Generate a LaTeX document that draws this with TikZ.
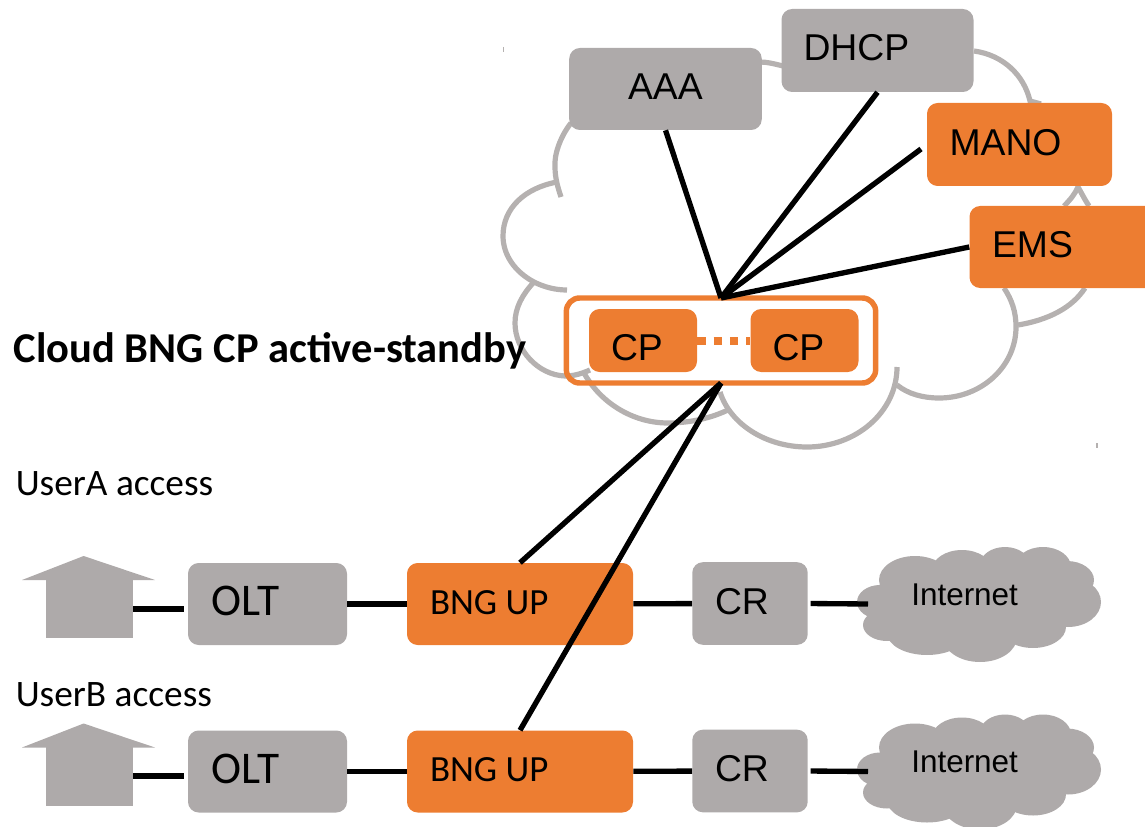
\documentclass[tikz,border=0pt]{standalone}
\usepackage{fontspec}
\setmainfont{Liberation Sans}
\newfontfamily\carlito{Carlito}
\definecolor{boxgray}{HTML}{AEAAAA}
\definecolor{boxorange}{HTML}{ED7D31}
\definecolor{cloudgray}{HTML}{B5B1B0}
% left edge and baseline of the text, in px from the box centre
\newcommand{\boxlabel}[3]{\raisebox{\dimexpr -#2pt*3/4\relax}[0pt][0pt]{\rlap{\hspace{\dimexpr #1pt*3/4\relax}#3}}}
\tikzset{
  graybox/.style={rectangle, rounded corners=8pt, fill=boxgray, inner sep=0pt, font=\fontsize{28}{31}\selectfont},
  orangebox/.style={rectangle, rounded corners=8pt, fill=boxorange, inner sep=0pt, font=\fontsize{28}{31}\selectfont},
  oltbox/.style={graybox, minimum width=119.25pt, minimum height=61.5pt, font=\carlito\fontsize{34}{37}\selectfont},
  bngbox/.style={orangebox, minimum width=169.5pt, minimum height=61.5pt, font=\carlito\fontsize{27.7}{30}\selectfont},
  crbox/.style={graybox, minimum width=86.6pt, minimum height=62pt},
  cpbox/.style={orangebox, minimum width=81pt, minimum height=47.25pt},
  housebody/.style={rectangle, fill=boxgray, inner sep=0pt, minimum width=65pt, minimum height=44.25pt},
  link/.style={line width=4pt},
  accesslink/.style={line width=4.5pt, shorten >=3pt},
  cloudline/.style={draw=cloudgray, line width=3.9pt},
  inettext/.style={anchor=base west, inner sep=0pt, font=\fontsize{23.6}{26}\selectfont},
  sidetext/.style={anchor=base west, inner sep=0pt, font=\carlito\fontsize{28}{31}\selectfont},
  internetcloud/.pic={
    \fill[boxgray] (880,602) ellipse [x radius=23, y radius=17];
    \fill[boxgray] (887,625) ellipse [x radius=24, y radius=16];
    \fill[boxgray] (915,580) ellipse [x radius=36, y radius=24];
    \fill[boxgray] (927,633) ellipse [x radius=40, y radius=22];
    \fill[boxgray] (980,637) ellipse [x radius=37, y radius=25];
    \fill[boxgray] (1033,627) ellipse [x radius=33, y radius=21];
    \fill[boxgray] (1068,602) ellipse [x radius=33, y radius=25];
    \fill[boxgray] (1067,580) ellipse [x radius=27, y radius=19];
    \fill[boxgray] (1043,567) ellipse [x radius=28, y radius=20];
    \fill[boxgray] (1005,565) ellipse [x radius=25, y radius=18];
    \fill[boxgray] (962,570) ellipse [x radius=30, y radius=20];
    \fill[boxgray] (970,603) ellipse [x radius=90, y radius=30];
  }
}
\begin{document}
\begin{tikzpicture}[x=0.75pt,y=-0.75pt]
\clip (0,0) rectangle (1145,827);
% cloud round the control plane
\draw[cloudline] (571,123) .. controls (560,137) and (554,155) .. (555,167) .. controls (555,178) and (558,188) .. (561,197);
\draw[cloudline] (557,182) .. controls (525,188) and (503,208) .. (503,236) .. controls (503,255) and (515,272) .. (534,282) .. controls (544,287) and (555,290) .. (567,290);
\draw[cloudline] (534,282) .. controls (522,295) and (515,308) .. (515,323) .. controls (515,350) and (538,375) .. (565,376) .. controls (575,376) and (583,373) .. (590,370);
\draw[cloudline] (584,373) .. controls (600,402) and (632,423) .. (668,423) .. controls (690,423) and (712,418) .. (730,409);
\draw[cloudline] (720,392) .. controls (730,424) and (766,447) .. (807,447) .. controls (856,447) and (897,412) .. (897,367);
\draw[cloudline] (897,385) .. controls (908,394) and (923,398) .. (939,398) .. controls (982,398) and (1016,366) .. (1016,327) .. controls (1016,312) and (1012,300) .. (1004,288);
\draw[cloudline] (1018,325) .. controls (1048,320) and (1072,308) .. (1085,288);
\draw[cloudline] (1064,206) .. controls (1070,200) and (1075,194) .. (1078,187) .. controls (1082,194) and (1085,200) .. (1089,206);
\draw[cloudline] (974,51) .. controls (1003,55) and (1024,75) .. (1030,101) -- (1041,104);
\draw[cloudline] (760,62) .. controls (767,62) and (775,64) .. (783,66);
\draw[cloudgray, line width=0.8pt] (503.5,47) -- (503.5,52);
\draw[cloudgray, line width=0.8pt] (1097,443) -- (1097,448);
% control plane side
\node[graybox, minimum width=144.4pt, minimum height=61.5pt] (aaa) at (665.5,89) {\boxlabel{-37.5}{10.5}{AAA}};
\node[graybox, minimum width=144pt, minimum height=62.25pt] (dhcp) at (877.5,50.5) {\boxlabel{-74}{10.5}{DHCP}};
\node[orangebox, minimum width=138.75pt, minimum height=62.25pt] (mano) at (1019.5,144.5) {\boxlabel{-70}{11}{MANO}};
\node[orangebox, minimum width=139.5pt, minimum height=61.5pt] (ems) at (1062.5,247) {\boxlabel{-70.5}{11}{EMS}};
\node[rectangle, draw=boxorange, line width=4.1pt, rounded corners=10pt, outer sep=0pt, inner sep=0pt, minimum width=232pt, minimum height=63.75pt] (cpgroup) at (721,340.5) {};
\node[cpbox] (cp1) at (643,340.5) {\boxlabel{-32}{19.5}{CP}};
\node[cpbox] (cp2) at (804.5,340.5) {\boxlabel{-32}{19.5}{CP}};
\draw[boxorange, line width=6pt, dash pattern=on 6.2pt off 6pt] (cp1) -- (cp2);
\coordinate (manoend) at (921,149);
\draw[link] (aaa.south) -- (cpgroup.north);
\draw[link] (dhcp.south) -- (cpgroup.north);
\draw[link] (manoend) -- (cpgroup.north);
\draw[link] (ems.west) -- (cpgroup.north);
\node[anchor=base west, inner sep=0pt, font=\carlito\bfseries\fontsize{31.9}{35}\selectfont] (cptitle) at (13.5,362) {Cloud BNG CP active-standby};
% user A
\node[sidetext] (usera) at (15.5,495) {UserA access};
\node[housebody] (house1) at (89.5,608.5) {};
\fill[boxgray] (22,580) -- (83.6,556) -- (155,580) -- cycle;
\node[oltbox] (olt1) at (267.5,604) {\boxlabel{-56}{11.5}{OLT}};
\node[bngbox] (bng1) at (520,604) {\boxlabel{-90}{10}{BNG UP}};
\node[crbox] (cr1) at (750,603.5) {\boxlabel{-35}{10.5}{CR}};
\pic at (0,0) {internetcloud};
\node[inettext] (inet1) at (911,605.3) {Internet};
\coordinate (inet1in) at (868,604);
\draw[accesslink] (house1.east) -- (house1.east -| olt1.west);
\draw[link] (olt1) -- (bng1);
\draw[link] (bng1) -- (cr1);
\draw[link, shorten <=2pt] (cr1.east) -- (inet1in);
% user B
\node[sidetext] (userb) at (15.5,706) {UserB access};
\node[housebody] (house2) at (89.5,776) {};
\fill[boxgray] (22,747.5) -- (83.6,723.5) -- (155,747.5) -- cycle;
\node[oltbox] (olt2) at (267.5,771.5) {\boxlabel{-56}{11.5}{OLT}};
\node[bngbox] (bng2) at (520,771.5) {\boxlabel{-90}{10}{BNG UP}};
\node[crbox] (cr2) at (750,771) {\boxlabel{-35}{10.5}{CR}};
\pic at (0,167.5) {internetcloud};
\node[inettext] (inet2) at (911,772.8) {Internet};
\coordinate (inet2in) at (868,771.5);
\draw[accesslink] (house2.east) -- (house2.east -| olt2.west);
\draw[link] (olt2) -- (bng2);
\draw[link] (bng2) -- (cr2);
\draw[link, shorten <=2pt] (cr2.east) -- (inet2in);
% up to the control plane
\draw[link] (bng1.north) -- (cpgroup.south);
\draw[link] (bng2.north) -- (cpgroup.south);
\end{tikzpicture}
\end{document}
